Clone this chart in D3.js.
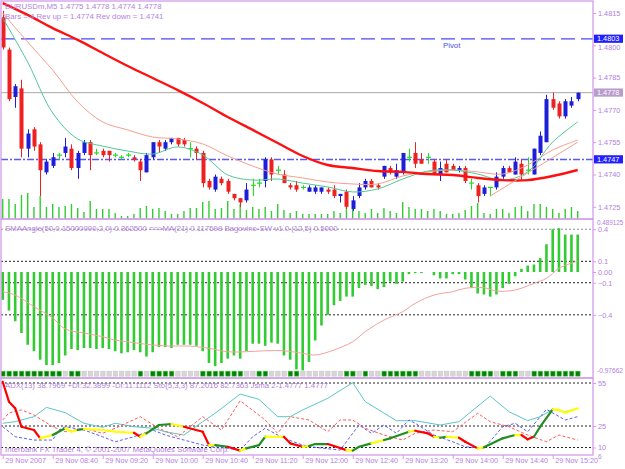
<!DOCTYPE html>
<html lang="en">
<head>
<meta charset="UTF-8">
<title>EURUSDm,M5</title>
<script src="https://d3js.org/d3.v7.min.js"></script>
<style>
  body { margin: 0; background: #fff; }
  svg { display: block; font-family: 'Liberation Sans', Arial, sans-serif; }
  .txt { font-size: 7.8px; fill: #b27fde; }
  .axis text { font-size: 7.3px; fill: #b27fde; font-family: 'Liberation Sans', Arial, sans-serif; }
  .axis line { stroke: #d59be8; }
  .axis path { display: none; }
  .time text { font-size: 7.2px; }
</style>
</head>
<body>
<div id="chart"></div>
<script>
// ---- price bars, EURUSDm M5, 29 Nov 2007 08:00 .. 15:40 ----
const opens  = [1.4813,1.4798,1.4776,1.4780,1.4752,1.4761,1.4754,1.4741,1.4744,1.4749,1.4750,1.4752,1.4743,1.4750,1.4755,1.4750,1.4751,1.4751,1.4749,1.4748,1.4749,1.4748,1.4746,1.4741,1.4748,1.4755,1.4752,1.4755,1.4757,1.4756,1.4752,1.4752,1.4750,1.4737,1.4733,1.4738,1.4737,1.4731,1.4729,1.4728,1.4735,1.4736,1.4737,1.4747,1.4742,1.4740,1.4735,1.4735,1.4734,1.4732,1.4732,1.4732,1.4733,1.4733,1.4730,1.4732,1.4724,1.4730,1.4734,1.4737,1.4735,1.4739,1.4743,1.4739,1.4741,1.4748,1.4750,1.4747,1.4748,1.4746,1.4740,1.4745,1.4744,1.4742,1.4743,1.4736,1.4735,1.4731,1.4734,1.4734,1.4739,1.4743,1.4740,1.4745,1.4742,1.4740,1.4750,1.4755,1.4775,1.4773,1.4767,1.4772,1.4775];
const highs  = [1.4816,1.4799,1.4782,1.4784,1.4761,1.4762,1.4755,1.4747,1.4750,1.4750,1.4757,1.4754,1.4751,1.4756,1.4756,1.4752,1.4752,1.4751,1.4750,1.4749,1.4750,1.4749,1.4747,1.4750,1.4755,1.4756,1.4756,1.4757,1.4757,1.4757,1.4755,1.4753,1.4751,1.4738,1.4740,1.4739,1.4738,1.4731,1.4729,1.4736,1.4738,1.4738,1.4748,1.4748,1.4744,1.4742,1.4736,1.4737,1.4735,1.4735,1.4735,1.4734,1.4734,1.4735,1.4731,1.4733,1.4730,1.4736,1.4738,1.4738,1.4736,1.4744,1.4744,1.4745,1.4750,1.4752,1.4755,1.4750,1.4750,1.4747,1.4746,1.4747,1.4745,1.4744,1.4744,1.4738,1.4736,1.4735,1.4734,1.4741,1.4744,1.4744,1.4748,1.4747,1.4748,1.4752,1.4760,1.4777,1.4778,1.4774,1.4775,1.4776,1.4778];
const lows   = [1.4798,1.4774,1.4771,1.4748,1.4748,1.4751,1.4730,1.4740,1.4743,1.4747,1.4748,1.4742,1.4738,1.4749,1.4742,1.4749,1.4748,1.4746,1.4748,1.4747,1.4748,1.4746,1.4737,1.4741,1.4747,1.4750,1.4751,1.4754,1.4753,1.4753,1.4748,1.4747,1.4734,1.4733,1.4732,1.4735,1.4731,1.4728,1.4725,1.4727,1.4730,1.4734,1.4734,1.4737,1.4740,1.4736,1.4733,1.4732,1.4733,1.4732,1.4731,1.4731,1.4731,1.4729,1.4727,1.4724,1.4723,1.4729,1.4733,1.4734,1.4733,1.4738,1.4740,1.4738,1.4740,1.4746,1.4743,1.4745,1.4745,1.4740,1.4737,1.4741,1.4742,1.4741,1.4736,1.4733,1.4727,1.4730,1.4730,1.4733,1.4738,1.4741,1.4740,1.4737,1.4740,1.4740,1.4749,1.4755,1.4770,1.4766,1.4766,1.4771,1.4774];
const closes = [1.4799,1.4775,1.4781,1.4752,1.4759,1.4753,1.4742,1.4746,1.4748,1.4749,1.4753,1.4743,1.4750,1.4755,1.4749,1.4750,1.4749,1.4749,1.4749,1.4748,1.4749,1.4747,1.4742,1.4749,1.4755,1.4753,1.4755,1.4757,1.4754,1.4754,1.4752,1.4750,1.4736,1.4734,1.4739,1.4736,1.4732,1.4729,1.4727,1.4733,1.4735,1.4736,1.4747,1.4740,1.4742,1.4736,1.4734,1.4733,1.4734,1.4734,1.4734,1.4734,1.4732,1.4730,1.4731,1.4725,1.4728,1.4734,1.4737,1.4734,1.4734,1.4744,1.4741,1.4742,1.4750,1.4748,1.4745,1.4745,1.4748,1.4740,1.4743,1.4741,1.4742,1.4743,1.4737,1.4736,1.4730,1.4734,1.4734,1.4739,1.4743,1.4741,1.4746,1.4740,1.4742,1.4752,1.4758,1.4775,1.4771,1.4767,1.4774,1.4774,1.4778];
const volumes = [80,80,60,96,104,48,92,48,60,48,52,60,44,28,72,40,40,40,24,12,12,20,44,52,40,44,32,20,20,32,44,44,68,72,40,44,72,40,60,36,48,40,48,32,60,36,24,32,20,20,20,20,20,32,24,48,40,32,24,40,24,44,32,24,68,48,40,40,32,40,32,20,20,24,36,52,64,24,20,40,40,24,48,52,32,60,60,48,40,24,40,48,32];

// moving averages, read every 4th bar
const maIdx  = [0,4,8,12,16,20,24,28,32,36,40,44,48,52,56,60,64,68,72,76,80,84,88,92];
const maSlow = [1.48196,1.48141,1.48080,1.48025,1.47964,1.47904,1.47848,1.47792,1.47732,1.47667,1.47607,1.47546,1.47486,1.47444,1.47430,1.47416,1.47412,1.47402,1.47398,1.47384,1.47374,1.47374,1.47393,1.47421];
const maMid  = [1.48150,1.48015,1.47885,1.47737,1.47644,1.47607,1.47574,1.47565,1.47542,1.47486,1.47439,1.47402,1.47384,1.47365,1.47356,1.47356,1.47393,1.47412,1.47421,1.47412,1.47402,1.47444,1.47514,1.47560];
const maFast = [1.48127,1.47922,1.47686,1.47565,1.47532,1.47509,1.47495,1.47528,1.47491,1.47398,1.47374,1.47379,1.47360,1.47342,1.47319,1.47333,1.47379,1.47416,1.47421,1.47402,1.47374,1.47412,1.47551,1.47644];
const revIdx = [78, 92];
const revVal = [1.4730, 1.4755];

const pivot = 1.4803, bid = 1.4778, level2 = 1.4747;
const priceTicks = [1.4815, 1.4800, 1.4785, 1.4770, 1.4755, 1.4740, 1.4725];

// SMAAngle histogram + its MA(21)
const angle = [-0.26,-0.36,-0.46,-0.57,-0.68,-0.74,-0.82,-0.87,-0.87,-0.85,-0.78,-0.72,-0.73,-0.71,-0.71,-0.72,-0.71,-0.72,-0.74,-0.76,-0.75,-0.73,-0.75,-0.79,-0.75,-0.70,-0.70,-0.71,-0.68,-0.68,-0.68,-0.69,-0.74,-0.85,-0.88,-0.85,-0.81,-0.78,-0.81,-0.74,-0.67,-0.67,-0.69,-0.66,-0.67,-0.78,-0.82,-0.91,-0.92,-0.84,-0.64,-0.50,-0.40,-0.31,-0.27,-0.23,-0.23,-0.15,-0.12,-0.13,-0.16,-0.14,-0.09,-0.11,-0.09,-0.02,-0.01,-0.01,0,-0.03,-0.06,-0.06,-0.02,-0.02,-0.07,-0.15,-0.20,-0.21,-0.23,-0.21,-0.15,-0.11,-0.04,0.03,0.06,0.07,0.13,0.26,0.40,0.41,0.35,0.35,0.35];
const angMaIdx = [0,2,5,8,10,13,16,18,21,24,27,30,33,36,39,42,45,48,50,53,56,58,61,64,66,69,72,74,77,79,82,85,87,89,92];
const angMa = [-0.184,-0.215,-0.324,-0.43,-0.533,-0.57,-0.605,-0.636,-0.66,-0.682,-0.692,-0.692,-0.713,-0.745,-0.745,-0.736,-0.736,-0.76,-0.776,-0.729,-0.651,-0.558,-0.449,-0.371,-0.293,-0.215,-0.184,-0.152,-0.147,-0.178,-0.168,-0.106,-0.059,0.035,0.103];
const angLevels = [0.4, 0.1, -0.1, -0.4];
const angTicks = [0.4, 0.1, 0, -0.1, -0.4];
const angMax = 0.489125, angMin = -0.97662;
// Bagovino-SW state squares (1 = dark green, 0 = grey)
const swState = [1,1,1,1,1,1,1,1,1,1,0,1,1,0,0,0,0,0,0,0,0,0,1,0,1,1,1,1,0,0,0,0,1,1,1,1,1,1,1,0,0,1,1,0,0,0,1,1,0,0,0,0,0,0,0,1,1,0,1,0,0,1,1,1,1,1,1,0,0,0,0,0,0,0,0,1,1,1,1,0,1,1,1,0,0,1,1,1,1,1,1,1,1];
const swLevel = -0.95;

// ADX pane
const adxIdx = [0,2,5,7,10,13,16,18,21,24,26,29,32,34,38,41,44,46,48,52,56,58,63,66,70,73,78,81,84,86,88,90,92];
const adxVal = [26.9,28.0,31.5,38.0,34.3,26.9,24.1,26.9,24.5,23.4,21.0,18.7,28.0,33.9,47.3,43.6,31.5,31.5,36.2,44.3,55.2,42.0,28.7,28.7,25.7,28.0,45.9,35.0,28.7,31.5,36.6,35.0,37.3];
const pdiIdx = [0,2,5,8,9,10,13,16,18,21,24,26,29,32,36,38,40,42,45,48,50,54,57,59,61,63,65,66,69,72,74,77,80,82,84,87,90,92];
const pdiVal = [24.5,17.5,15.2,15.2,22.2,24.5,22.2,17.5,14.0,17.5,22.2,18.7,15.2,11.7,9.4,8.2,17.5,23.4,16.4,11.7,10.1,8.2,25.7,19.9,25.7,19.9,29.2,26.9,18.7,14.0,10.5,9.4,24.5,26.9,21.0,36.6,29.2,31.5];
const mdiIdx = [0,1,3,5,8,10,13,16,18,22,25,28,32,35,38,42,44,46,49,52,54,56,58,61,64,66,69,72,76,78,81,84,87,89,92];
const mdiVal = [29.2,34.1,36.2,32.7,24.5,21.0,23.4,19.9,23.4,31.5,23.4,17.5,31.5,22.2,42.6,29.2,19.9,31.5,29.2,21.0,29.2,29.2,23.4,18.7,15.2,19.9,22.2,21.0,33.9,28.0,24.5,18.7,14.0,18.7,15.2];
const stoIdx = [0,1,2,3,5,6,8,10,11,12,13,16,18,21,22,23,25,27,29,32,33,34,36,38,39,41,42,43,45,46,48,49,50,52,53,55,56,57,59,61,62,65,66,68,69,70,71,73,74,76,77,80,82,83,84,85,86,88,89,90,92];
const stoVal = [55.9,42.0,37.3,24.5,22.2,16.4,18.7,23.4,21.0,22.2,22.9,22.2,21.0,20.3,17.5,19.9,25.7,26.4,24.5,21.0,11.7,11.7,10.5,7.8,9.4,11.7,17.5,17.5,17.5,12.9,10.5,11.0,12.4,12.4,11.0,8.2,7.8,10.5,12.9,15.2,16.4,21.0,21.7,19.9,17.5,16.8,17.5,16.8,14.0,9.4,10.1,16.4,18.7,18.7,15.7,17.5,24.5,36.6,36.2,34.3,37.3];
const stoCol = ["r","r","r","r","r","r","y","g","y","y","g","y","y","y","r","y","g","g","y","r","r","y","g","r","y","g","g","y","y","r","r","y","g","g","r","r","y","g","g","y","g","g","y","r","r","y","g","y","r","r","y","g","g","y","r","r","g","g","y","y","y"];
const adxLevels = [55, 25, 10];
const adxTicks = [55, 25, 10];

// time axis
const timeIdx = [0,8,16,24,32,40,48,56,64,72,80,88];
const timeLabels = ["29 Nov 2007","29 Nov 08:40","29 Nov 09:20","29 Nov 10:00","29 Nov 10:40","29 Nov 11:20","29 Nov 12:00","29 Nov 12:40","29 Nov 13:20","29 Nov 14:00","29 Nov 14:40","29 Nov 15:20"];

const W = 625, H = 469;
const frameCol = "#d59be8", txtCol = "#b27fde";
const bullCol = "#1e1ed8", bearCol = "#ee2020", dojiCol = "#22dd22";
const left = 1, right = 593;
const mainTop = 1, mainBot = 219, angTop = 219, angBot = 378, adxTop = 378, adxBot = 455;

const svg = d3.select("#chart").append("svg").attr("width", W).attr("height", H);
svg.append("rect").attr("width", W).attr("height", H).attr("fill", "#fff");

const x = d3.scaleLinear().domain([0, 92]).range([2.7, 577.7]);
const yPrice = d3.scaleLinear().domain([1.4725, 1.4815]).range([206.8, 13]);
const yVol = d3.scaleLinear().domain([0, 868]).range([mainBot, 2]);
const yAng = d3.scaleLinear().domain([angMin, angMax]).range([376.5, 219.7]);
const yAdx = d3.scaleLinear().domain([10, 55]).range([447.5, 383]);

// clip paths for the three panes
const defs = svg.append("defs");
[["clipMain", mainTop, mainBot], ["clipAng", angTop, angBot], ["clipAdx", adxTop, adxBot]].forEach(([id, t, b]) => {
  defs.append("clipPath").attr("id", id).append("rect")
    .attr("x", left).attr("y", t).attr("width", right - left).attr("height", b - t);
});

// ===== main pane =====
const gMain = svg.append("g").attr("clip-path", "url(#clipMain)");

gMain.selectAll(".vol").data(volumes).enter().append("line")
  .attr("x1", (d, i) => x(i)).attr("x2", (d, i) => x(i))
  .attr("y1", yVol(0)).attr("y2", d => yVol(d))
  .attr("stroke", "#33cc33").attr("stroke-width", 1.4);

// horizontal levels
gMain.append("line").attr("x1", left).attr("x2", right)
  .attr("y1", yPrice(bid)).attr("y2", yPrice(bid))
  .attr("stroke", "#a8a8a8").attr("stroke-width", 1);
gMain.append("line").attr("x1", left).attr("x2", right)
  .attr("y1", yPrice(pivot)).attr("y2", yPrice(pivot))
  .attr("stroke", "#4848f4").attr("stroke-width", 1.4).attr("stroke-dasharray", "14,6");
gMain.append("line").attr("x1", left).attr("x2", right)
  .attr("y1", yPrice(level2)).attr("y2", yPrice(level2))
  .attr("stroke", "#5a5af0").attr("stroke-width", 1.4).attr("stroke-dasharray", "7,2,2,2");
gMain.append("text").attr("class", "txt").attr("x", 443).attr("y", yPrice(pivot) + 9)
  .style("fill", "#5050e8").text("Pivot");

// candles
const bars = d3.range(opens.length).map(i => ({ i, o: opens[i], h: highs[i], l: lows[i], c: closes[i] }));
const colOf = d => d.c > d.o ? bullCol : (d.c < d.o ? bearCol : dojiCol);

gMain.selectAll(".wick").data(bars).enter().append("line")
  .attr("x1", d => Math.round(x(d.i)) + 0.5).attr("x2", d => Math.round(x(d.i)) + 0.5)
  .attr("y1", d => yPrice(d.h)).attr("y2", d => yPrice(d.l))
  .attr("stroke", colOf).attr("stroke-width", 1);

gMain.selectAll(".body").data(bars.filter(d => d.c !== d.o)).enter().append("rect")
  .attr("x", d => Math.round(x(d.i)) - 1.5)
  .attr("y", d => yPrice(Math.max(d.o, d.c)))
  .attr("width", 4)
  .attr("height", d => Math.max(1.5, Math.abs(yPrice(d.o) - yPrice(d.c))))
  .attr("fill", colOf);

gMain.selectAll(".doji").data(bars.filter(d => d.c === d.o)).enter().append("line")
  .attr("x1", d => Math.round(x(d.i)) - 2).attr("x2", d => Math.round(x(d.i)) + 3)
  .attr("y1", d => yPrice(d.o)).attr("y2", d => yPrice(d.o))
  .attr("stroke", dojiCol).attr("stroke-width", 1.2);

// moving averages
const maLine = vals => d3.line().x((d, k) => x(maIdx[k])).y(d => yPrice(d)).curve(d3.curveCatmullRom)(vals);
gMain.append("path").attr("d", maLine(maMid)).attr("fill", "none").attr("stroke", "#f4a08c").attr("stroke-width", 1);
gMain.append("path").attr("d", maLine(maFast)).attr("fill", "none").attr("stroke", "#50c896").attr("stroke-width", 1);
gMain.append("path").attr("d", maLine(maSlow)).attr("fill", "none").attr("stroke", "#ff1010").attr("stroke-width", 2.4);
gMain.append("path")
  .attr("d", d3.line().x((d, k) => x(revIdx[k])).y(d => yPrice(d))(revVal))
  .attr("fill", "none").attr("stroke", "#f4a08c").attr("stroke-width", 1);

svg.append("text").attr("class", "txt").attr("x", 5).attr("y", 9).text("EURUSDm,M5  1.4775 1.4778 1.4774 1.4778");
svg.append("text").attr("class", "txt").attr("x", 5).attr("y", 19).text("Bars = 4  Rev up =  1.4774  Rev down = 1.4741");

// price axis
const pAxis = svg.append("g").attr("class", "axis").attr("transform", `translate(${right},0)`)
  .call(d3.axisRight(yPrice).tickValues(priceTicks).tickSize(3).tickPadding(2).tickFormat(d3.format(".4f")));
// the 1.4800 label sits just under the pivot flag
pAxis.selectAll(".tick").filter(d => d === 1.48).select("text").attr("dy", "0.62em");

// price flags on the axis
const flags = [[pivot, "#1f1fff", "#fff"], [bid, "#b89ccc", "#fff"], [level2, "#1f1fff", "#fff"]];
flags.forEach(([v, bg, fg]) => {
  svg.append("rect").attr("x", right + 1).attr("y", yPrice(v) - 4.2).attr("width", 29).attr("height", 8.2).attr("fill", bg);
  svg.append("text").attr("x", right + 4).attr("y", yPrice(v) + 2.6)
    .style("font-size", "7.3px").style("fill", fg).text(d3.format(".4f")(v));
});

// ===== SMAAngle pane =====
const gAng = svg.append("g").attr("clip-path", "url(#clipAng)");
gAng.selectAll(".lvl").data(angLevels).enter().append("line")
  .attr("x1", left).attr("x2", right).attr("y1", d => yAng(d)).attr("y2", d => yAng(d))
  .attr("stroke", (d, k) => k === 0 ? "#888" : "#222").attr("stroke-width", 1).attr("stroke-dasharray", "2,2");
gAng.selectAll(".hist").data(angle).enter().append("line")
  .attr("x1", (d, i) => x(i)).attr("x2", (d, i) => x(i))
  .attr("y1", yAng(0)).attr("y2", d => yAng(d))
  .attr("stroke", "#32cc32").attr("stroke-width", 2.6);
gAng.append("path")
  .attr("d", d3.line().x((d, k) => x(angMaIdx[k])).y(d => yAng(d)).curve(d3.curveCatmullRom)(angMa))
  .attr("fill", "none").attr("stroke", "#f4a0a0").attr("stroke-width", 1);
gAng.selectAll(".sw").data(swState).enter().append("rect")
  .attr("x", (d, i) => x(i) - 2).attr("y", yAng(swLevel) - 2.5).attr("width", 4.4).attr("height", 5)
  .attr("fill", d => d ? "#0b7d0b" : "#d6d6d6")
  .attr("stroke", d => d ? "#3fcf3f" : "#c8c8c8").attr("stroke-width", 0.6);
svg.append("text").attr("class", "txt").attr("x", 5).attr("y", 231)
  .text("SMAAngle(50,0.15000000,2,0) 0.362500  ==>MA(21) 0.117598  Bagovino-SW v1.0 (12,5) 0.5000");
svg.append("g").attr("class", "axis").attr("transform", `translate(${right},0)`)
  .call(d3.axisRight(yAng).tickValues(angTicks).tickSize(3).tickPadding(2)
    .tickFormat(d => d === 0 ? "0.00" : d3.format(".1f")(d)));
svg.append("text").attr("class", "txt").style("font-size", "6.3px").attr("x", right + 4).attr("y", yAng(angMax) + 5).text("0.489125");
svg.append("text").attr("class", "txt").style("font-size", "6.6px").attr("x", right + 4).attr("y", yAng(angMin) - 4).text("-0.97662");

// ===== ADX pane =====
const gAdx = svg.append("g").attr("clip-path", "url(#clipAdx)");
gAdx.selectAll(".lvl").data(adxLevels).enter().append("line")
  .attr("x1", left).attr("x2", right).attr("y1", d => yAdx(d)).attr("y2", d => yAdx(d))
  .attr("stroke", "#222").attr("stroke-width", 1).attr("stroke-dasharray", "2,2");
const lineOf = (idx, vals) => d3.line().x((d, k) => x(idx[k])).y(d => yAdx(d))(vals);
gAdx.append("path").attr("d", lineOf(adxIdx, adxVal)).attr("fill", "none").attr("stroke", "#5cc6c6").attr("stroke-width", 1);
gAdx.append("path").attr("d", lineOf(mdiIdx, mdiVal)).attr("fill", "none").attr("stroke", "#ff5a5a").attr("stroke-width", 1).attr("stroke-dasharray", "3,2");
gAdx.append("path").attr("d", lineOf(pdiIdx, pdiVal)).attr("fill", "none").attr("stroke", "#5a5aff").attr("stroke-width", 1).attr("stroke-dasharray", "3,2");
const segCol = { r: "#ff0000", y: "#ffff00", g: "#1f8f1f" };
gAdx.selectAll(".sto").data(d3.range(1, stoIdx.length)).enter().append("line")
  .attr("x1", k => x(stoIdx[k - 1])).attr("y1", k => yAdx(stoVal[k - 1]))
  .attr("x2", k => x(stoIdx[k])).attr("y2", k => yAdx(stoVal[k]))
  .attr("stroke", k => segCol[stoCol[k]]).attr("stroke-width", 2.2).attr("stroke-linecap", "round");
svg.append("text").attr("class", "txt").attr("x", 5).attr("y", 388)
  .text("ADX(13) 38.7969  +DI:32.3899  -DI:11.1112  Sto(5,3,3) 87.2016 82.7363  Jsma 2-1.4777 1.4777");
svg.append("text").attr("class", "txt").attr("x", 5).attr("y", 452)
  .text("Interbank FX Trader 4, \u00a9 2001-2007 MetaQuotes Software Corp.");
svg.append("g").attr("class", "axis").attr("transform", `translate(${right},0)`)
  .call(d3.axisRight(yAdx).tickValues(adxTicks).tickSize(3).tickPadding(2).tickFormat(d3.format("d")));
svg.append("text").attr("class", "txt").style("font-size", "6.6px").attr("x", right + 5).attr("y", adxBot + 4).text("6");

// time axis
const tAxis = svg.append("g").attr("class", "axis time").attr("transform", `translate(0,${adxBot})`)
  .call(d3.axisBottom(x).tickValues(timeIdx).tickSize(4).tickFormat((d, k) => timeLabels[k]));
tAxis.selectAll("text").attr("text-anchor", "start").attr("dx", 2).attr("y", 3);

// pane frames
[[mainTop, mainBot], [angTop, angBot], [adxTop, adxBot]].forEach(([t, b]) => {
  svg.append("rect").attr("x", left).attr("y", t).attr("width", right - left).attr("height", b - t)
    .attr("fill", "none").attr("stroke", frameCol).attr("stroke-width", 1.3);
});
</script>
</body>
</html>
